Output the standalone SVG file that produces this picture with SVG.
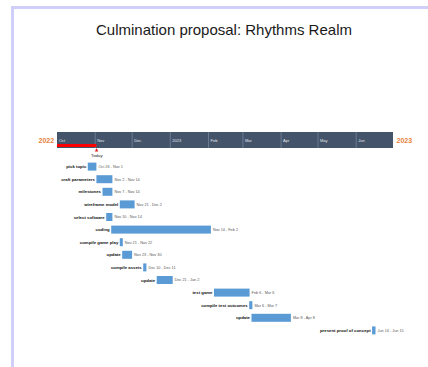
<svg xmlns="http://www.w3.org/2000/svg" width="428" height="367" viewBox="0 0 428 367">
<style>
.lbl{font-family:"Liberation Sans",Arial,sans-serif;font-size:4.3px;font-weight:bold;fill:#111;text-anchor:end}
.dt{font-family:"Liberation Sans",Arial,sans-serif;font-size:3.8px;fill:#595959}
.bar{fill:#5b9bd5}
.mon{font-family:"Liberation Sans",Arial,sans-serif;font-size:4px;fill:#e4e9f0}
.div{stroke:#8494aa;stroke-width:0.6}
.yr{font-family:"Liberation Sans",Arial,sans-serif;font-size:7px;font-weight:bold;fill:#e8843f}
</style>
<rect width="428" height="367" fill="#ffffff"/>
<path d="M12.5,367 V7.5 H428" fill="none" stroke="#cfcffa" stroke-width="3"/>
<text id="title" x="224" y="35" font-family="'Liberation Sans',Arial,sans-serif" font-size="15" fill="#1a1a1a" text-anchor="middle">Culmination proposal: Rhythms Realm</text>
<g id="timescale">
<rect x="57" y="132" width="336" height="16" fill="#44546a"/>
<line class="div" x1="95.2" y1="132" x2="95.2" y2="148"/>
<line class="div" x1="132.2" y1="132" x2="132.2" y2="148"/>
<line class="div" x1="170.3" y1="132" x2="170.3" y2="148"/>
<line class="div" x1="208.5" y1="132" x2="208.5" y2="148"/>
<line class="div" x1="242.9" y1="132" x2="242.9" y2="148"/>
<line class="div" x1="281.1" y1="132" x2="281.1" y2="148"/>
<line class="div" x1="318" y1="132" x2="318" y2="148"/>
<line class="div" x1="356.2" y1="132" x2="356.2" y2="148"/>
<text class="mon" x="59" y="141.5">Oct</text>
<text class="mon" x="97.2" y="141.5">Nov</text>
<text class="mon" x="134.2" y="141.5">Dec</text>
<text class="mon" x="172.3" y="141.5">2023</text>
<text class="mon" x="210.5" y="141.5">Feb</text>
<text class="mon" x="244.9" y="141.5">Mar</text>
<text class="mon" x="283.1" y="141.5">Apr</text>
<text class="mon" x="320" y="141.5">May</text>
<text class="mon" x="358.2" y="141.5">Jun</text>
<text class="yr" x="38.5" y="142.5">2022</text>
<text class="yr" x="396.5" y="142.5">2023</text>
</g>
<g id="today">
<rect x="57" y="144" width="39.4" height="3" fill="#ff0000"/>
<polygon points="96.6,148 98.3,151.5 94.9,151.5" fill="#e02020"/>
<text x="96.8" y="157" font-family="'Liberation Sans',Arial,sans-serif" font-size="4.3" fill="#222" text-anchor="middle">Today</text>
</g>
<g id="task1"><rect class="bar" x="87.8" y="162.6" width="8.6" height="8"/><text class="lbl" x="86.3" y="168.1">pick topic</text><text class="dt" x="98.4" y="168">Oct 26 - Nov 1</text></g>
<g id="task2"><rect class="bar" x="96.4" y="175.2" width="16" height="8"/><text class="lbl" x="94.9" y="180.7">craft parameters</text><text class="dt" x="114.4" y="180.6">Nov 2 - Nov 14</text></g>
<g id="task3"><rect class="bar" x="102.5" y="187.8" width="9.9" height="8"/><text class="lbl" x="101" y="193.3">milestones</text><text class="dt" x="114.4" y="193.2">Nov 7 - Nov 14</text></g>
<g id="task4"><rect class="bar" x="119.8" y="200.4" width="14.8" height="8"/><text class="lbl" x="118.3" y="205.9">wireframe model</text><text class="dt" x="136.6" y="205.8">Nov 21 - Dec 2</text></g>
<g id="task5"><rect class="bar" x="106.2" y="213" width="6.2" height="8"/><text class="lbl" x="104.7" y="218.5">select software</text><text class="dt" x="114.4" y="218.4">Nov 10 - Nov 14</text></g>
<g id="task6"><rect class="bar" x="111.2" y="225.6" width="99.7" height="8"/><text class="lbl" x="109.7" y="231.1">coding</text><text class="dt" x="212.9" y="231">Nov 14 - Feb 2</text></g>
<g id="task7"><rect class="bar" x="119.8" y="238.2" width="3" height="8"/><text class="lbl" x="118.3" y="243.7">compile game play</text><text class="dt" x="124.8" y="243.6">Nov 21 - Nov 22</text></g>
<g id="task8"><rect class="bar" x="122.2" y="250.8" width="9.9" height="8"/><text class="lbl" x="120.7" y="256.3">update</text><text class="dt" x="134.1" y="256.2">Nov 23 - Nov 30</text></g>
<g id="task9"><rect class="bar" x="143.2" y="263.4" width="3.2" height="8"/><text class="lbl" x="141.7" y="268.9">compile assets</text><text class="dt" x="148.4" y="268.8">Dec 10 - Dec 11</text></g>
<g id="task10"><rect class="bar" x="156.7" y="276" width="16" height="8"/><text class="lbl" x="155.2" y="281.5">update</text><text class="dt" x="174.7" y="281.4">Dec 21 - Jan 2</text></g>
<g id="task11"><rect class="bar" x="214" y="288.6" width="35.6" height="8"/><text class="lbl" x="212.5" y="294.1">test game</text><text class="dt" x="251.6" y="294">Feb 6 - Mar 6</text></g>
<g id="task12"><rect class="bar" x="249.2" y="301.2" width="3.2" height="8"/><text class="lbl" x="247.7" y="306.7">compile test outcomes</text><text class="dt" x="254.4" y="306.6">Mar 6 - Mar 7</text></g>
<g id="task13"><rect class="bar" x="251.5" y="313.8" width="39.4" height="8"/><text class="lbl" x="250" y="319.3">update</text><text class="dt" x="292.9" y="319.2">Mar 8 - Apr 8</text></g>
<g id="task14"><rect class="bar" x="372.1" y="326.4" width="3.4" height="8"/><text class="lbl" x="370.6" y="331.9">present proof of concept</text><text class="dt" x="377.5" y="331.8">Jun 14 - Jun 15</text></g>
<g id="connectors"/>
</svg>
